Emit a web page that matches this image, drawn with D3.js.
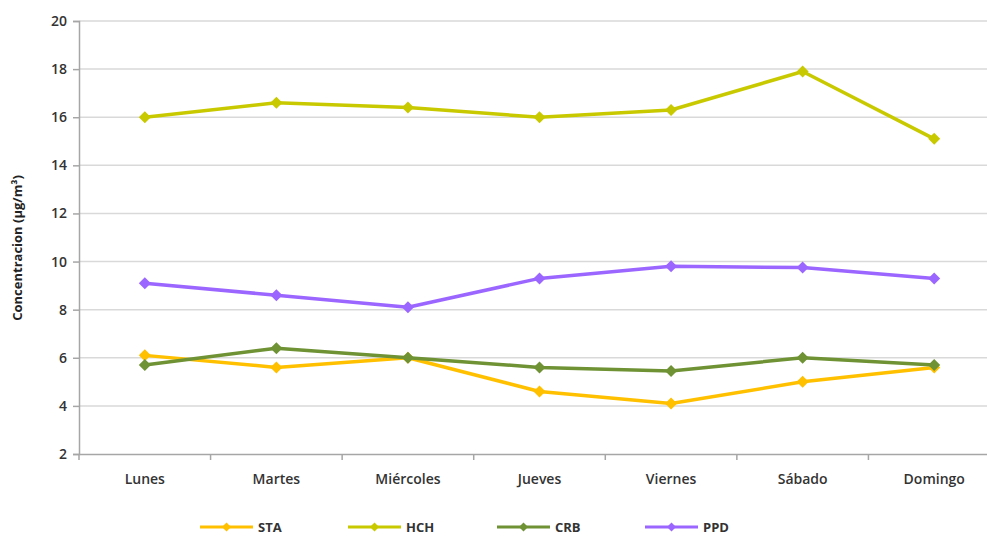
<!DOCTYPE html>
<html><head><meta charset="utf-8">
<script src="https://cdn.jsdelivr.net/npm/d3@7"></script>
<style>body{margin:0;background:#fff}svg{display:block}</style>
</head><body>
<svg id="c" width="987" height="536"></svg>
<script>
const days = ["Lunes","Martes","Miércoles","Jueves","Viernes","Sábado","Domingo"];
const seriesNames = ["STA","HCH","CRB","PPD"];
const STA = [6.1,5.6,6.0,4.6,4.1,5.0,5.6];
const HCH = [16.0,16.6,16.4,16.0,16.3,17.9,15.1];
const CRB = [5.7,6.4,6.0,5.6,5.45,6.0,5.7];
const PPD = [9.1,8.6,8.1,9.3,9.8,9.75,9.3];
const yTicks = [2,4,6,8,10,12,14,16,18,20];
const colors = {STA:"#FFC000",HCH:"#C9C900",CRB:"#6E9234",PPD:"#9B66FF"};
const values = {STA,HCH,CRB,PPD};

const svg = d3.select("#c");
const mLeft=79, mRight=1000, mTop=21, mBottom=454;
const x = d3.scaleBand().domain(days).range([mLeft,mRight]).padding(0);
const y = d3.scaleLinear().domain([2,20]).range([mBottom,mTop]);
const font = "Open Sans, Liberation Sans, sans-serif";

// grid
svg.append("g").selectAll("line").data(yTicks.slice(1)).join("line")
  .attr("x1",mLeft).attr("x2",mRight).attr("y1",d=>y(d)).attr("y2",d=>y(d))
  .attr("stroke","#d9d9d9").attr("stroke-width",1.5);

// y axis
const ya = svg.append("g").attr("transform",`translate(${mLeft},0)`)
  .call(d3.axisLeft(y).tickValues(yTicks).tickSize(6).tickPadding(6));
ya.select(".domain").attr("stroke","#a6a6a6").attr("stroke-width",1.5);
ya.selectAll(".tick line").attr("stroke","#a6a6a6").attr("stroke-width",1.5);
ya.selectAll("text").attr("font-family",font).attr("font-size",14).attr("fill","#333").attr("font-weight",600);

// x axis
const xa = svg.append("g").attr("transform",`translate(0,${mBottom})`)
  .call(d3.axisBottom(x).tickSize(0).tickPadding(20));
xa.select(".domain").attr("stroke","#a6a6a6").attr("stroke-width",1.5);
xa.selectAll("text").attr("font-family",font).attr("font-size",14).attr("fill","#333").attr("font-weight",600);
svg.append("g").selectAll("line").data(days).join("line")
  .attr("x1",d=>x(d)).attr("x2",d=>x(d)).attr("y1",mBottom).attr("y2",mBottom+6)
  .attr("stroke","#a6a6a6").attr("stroke-width",1.5);

// y label
svg.append("text").attr("transform","translate(22,248) rotate(-90)")
  .attr("text-anchor","middle").attr("font-family",font).attr("font-size",13).attr("font-weight",700).attr("fill","#222")
  .text("Concentracion (µg/m³)");

// lines
const line = d3.line().x((d,i)=>x(days[i])+x.bandwidth()/2).y(d=>y(d));
const diamond = d3.symbol().type(d3.symbolSquare).size(72);
const diamondSmall = d3.symbol().type(d3.symbolSquare).size(40);
seriesNames.forEach(s=>{
  const g = svg.append("g");
  g.append("path").datum(values[s]).attr("d",line).attr("fill","none")
    .attr("stroke",colors[s]).attr("stroke-width",3.5).attr("stroke-linejoin","round");
  g.selectAll("path.m").data(values[s]).join("path").attr("class","m")
    .attr("transform",(d,i)=>`translate(${x(days[i])+x.bandwidth()/2},${y(d)}) rotate(45)`)
    .attr("d",diamond).attr("fill",colors[s]);
});

// legend
const legX = [200,348,497,645];
const lg = svg.append("g");
seriesNames.forEach((s,i)=>{
  const g = lg.append("g").attr("transform",`translate(${legX[i]},527)`);
  g.append("line").attr("x1",0).attr("x2",53).attr("stroke",colors[s]).attr("stroke-width",3);
  g.append("path").attr("transform","translate(26.5,0) rotate(45)").attr("d",diamondSmall).attr("fill",colors[s]);
  g.append("text").attr("x",58).attr("y",5).attr("font-family",font).attr("font-size",13)
    .attr("font-weight",700).attr("fill","#333").text(s);
});
</script>
</body></html>
